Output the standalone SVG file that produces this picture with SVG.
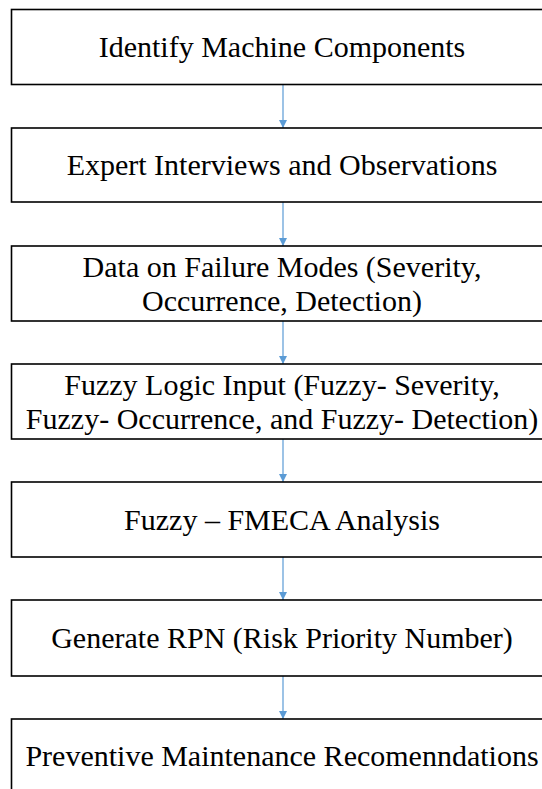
<svg xmlns="http://www.w3.org/2000/svg" width="542" height="789" viewBox="0 0 542 789">
<style>
.box{fill:#fff;stroke:#000;stroke-width:1.6}
.t{font-family:"Liberation Serif","Times New Roman",serif;font-size:30px;fill:#000;text-anchor:middle}
.c{stroke:#5B9BD5;stroke-width:1.2;fill:none}
</style>
<defs>
<marker id="ah" markerWidth="10" markerHeight="10" refX="8" refY="4" orient="auto" markerUnits="userSpaceOnUse">
<path d="M0,0 L8,4 L0,8 Z" fill="#5B9BD5"/>
</marker>
</defs>
<rect width="542" height="789" fill="#fff"/>
<g id="connectors">
<line class="c" x1="283" y1="84" x2="283" y2="128" marker-end="url(#ah)"/>
<line class="c" x1="283" y1="202" x2="283" y2="246" marker-end="url(#ah)"/>
<line class="c" x1="283" y1="321" x2="283" y2="364" marker-end="url(#ah)"/>
<line class="c" x1="283" y1="439" x2="283" y2="482" marker-end="url(#ah)"/>
<line class="c" x1="283" y1="557" x2="283" y2="600" marker-end="url(#ah)"/>
<line class="c" x1="283" y1="676" x2="283" y2="719" marker-end="url(#ah)"/>
</g>
<g id="n1"><rect class="box" x="11.5" y="9.5" width="545" height="75"/><text class="t" x="282" y="57">Identify Machine Components</text></g>
<g id="n2"><rect class="box" x="11.5" y="128" width="545" height="74"/><text class="t" x="282" y="175">Expert Interviews and Observations</text></g>
<g id="n3"><rect class="box" x="11.5" y="246" width="545" height="75"/><text class="t" x="282" y="277">Data on Failure Modes (Severity,</text><text class="t" x="282" y="311">Occurrence, Detection)</text></g>
<g id="n4"><rect class="box" x="11.5" y="364" width="545" height="75"/><text class="t" x="282" y="395">Fuzzy Logic Input (Fuzzy- Severity,</text><text class="t" x="282" y="429">Fuzzy- Occurrence, and Fuzzy- Detection)</text></g>
<g id="n5"><rect class="box" x="11.5" y="482" width="545" height="75"/><text class="t" x="282" y="530">Fuzzy – FMECA Analysis</text></g>
<g id="n6"><rect class="box" x="11.5" y="600" width="545" height="76"/><text class="t" x="282" y="648">Generate RPN (Risk Priority Number)</text></g>
<g id="n7"><rect class="box" x="11.5" y="719" width="545" height="90"/><text class="t" x="282" y="766">Preventive Maintenance Recomenndations</text></g>
</svg>
